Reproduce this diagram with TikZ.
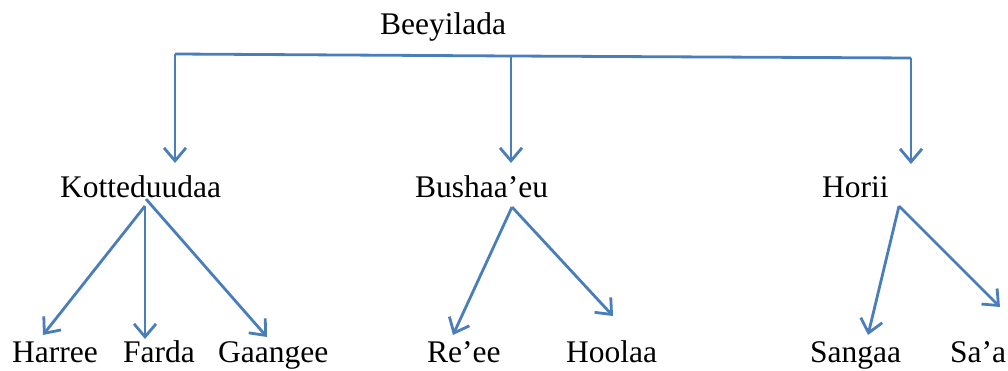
\documentclass[tikz,border=0pt]{standalone}
\usepackage{fontspec}
\setmainfont{Liberation Serif}
\usetikzlibrary{arrows.meta}
\definecolor{lineblue}{HTML}{4A7EBB}
\tikzset{
  lbl/.style={inner sep=0pt, anchor=base west, font=\fontsize{31.5}{36}\selectfont},
  conn/.style={draw=lineblue, line width=2.8pt},
  arr/.style={conn, -{Straight Barb[length=13pt,width=22pt,line width=2.8pt]}}
}
\begin{document}
\begin{tikzpicture}[x=1pt,y=-1pt]
\useasboundingbox (0,0) rectangle (1008,371);
% labels
\node[lbl] (bee) at (380,35) {Beeyilada};
\node[lbl] (kot) at (60,198) {Kotteduudaa};
\node[lbl] (bus) at (415,198) {Bushaa’eu};
\node[lbl] (hor) at (822,198) {Horii};
\node[lbl] (har) at (12,362) {Harree};
\node[lbl] (far) at (123,362) {Farda};
\node[lbl] (gaa) at (218,362) {Gaangee};
\node[lbl] (ree) at (427,362) {Re’ee};
\node[lbl] (hoo) at (566,362) {Hoolaa};
\node[lbl] (san) at (810,362) {Sangaa};
\node[lbl] (saa) at (950,362) {Sa’a};
% junction and end coordinates
\coordinate (jL) at (175,54);
\coordinate (jM) at (511,56);
\coordinate (jR) at (911,58);
\coordinate (tK) at (175,163);
\coordinate (tB) at (511,163);
\coordinate (tH) at (911,164);
\coordinate (aK) at (145,206);
\coordinate (aK2) at (146,199);
\coordinate (aB) at (512,207);
\coordinate (aH) at (899,206);
\coordinate (tHar) at (43,335);
\coordinate (tFar) at (145,339);
\coordinate (tGaa) at (267,337);
\coordinate (tRee) at (453,335);
\coordinate (tHoo) at (613,316);
\coordinate (tSan) at (868,335);
\coordinate (tSaa) at (1000,307);
% top level connectors
\draw[conn] (jL) -- (jM) -- (jR);
\draw[arr] (jL) -- (tK);
\draw[arr] (jM) -- (tB);
\draw[arr] (jR) -- (tH);
% Kotteduudaa
\draw[arr] (aK) -- (tHar);
\draw[arr] (aK) -- (tFar);
\draw[arr] (aK2) -- (tGaa);
% Bushaa'eu
\draw[arr] (aB) -- (tRee);
\draw[arr] (aB) -- (tHoo);
% Horii
\draw[arr] (aH) -- (tSan);
\draw[arr] (aH) -- (tSaa);
\end{tikzpicture}
\end{document}
